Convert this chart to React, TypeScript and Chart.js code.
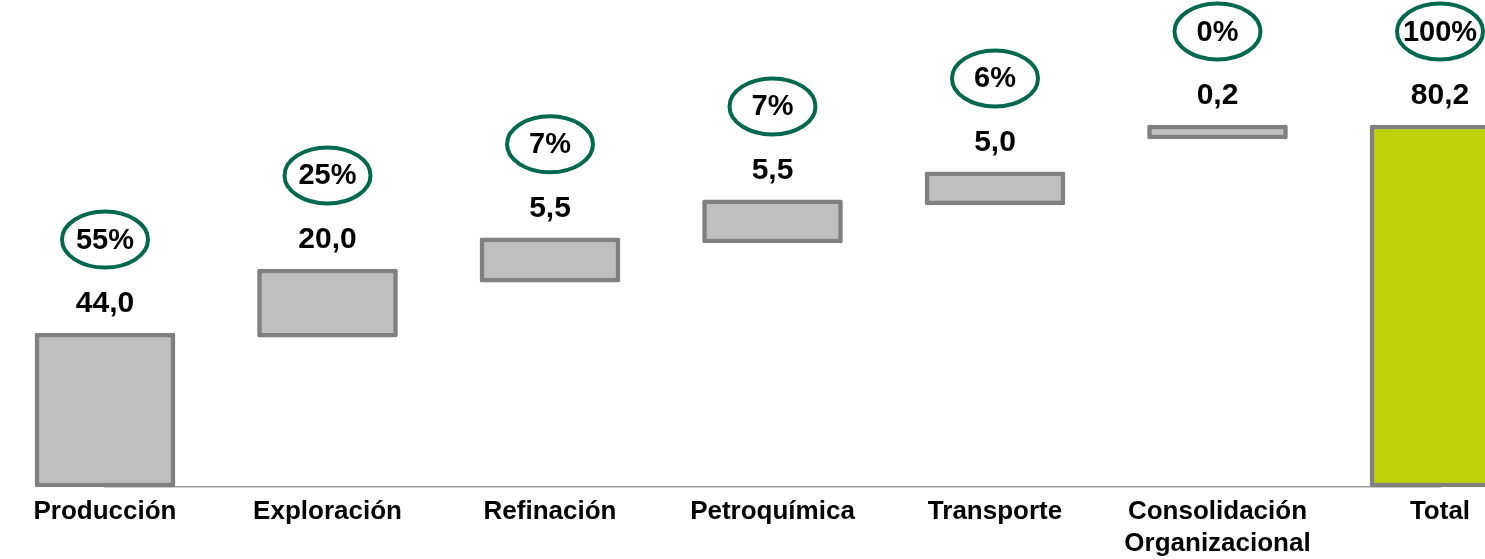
import React, { useEffect, useRef } from 'react';
import { Chart, registerables } from 'chart.js';

Chart.register(...registerables);

// Categories (x axis)
const categories = [
  'Producción',
  'Exploración',
  'Refinación',
  'Petroquímica',
  'Transporte',
  'Consolidación Organizacional',
  'Total',
];

// Floating bar extents as drawn in the picture (drawing units, 0..80.2)
const barStarts = [0, 33.2, 45.4, 54.1, 62.5, 77.1, 0];
const barEnds = [34.1, 48.3, 55.2, 63.6, 69.8, 80.2, 80.2];

// Labelled values and shares
const values = [44.0, 20.0, 5.5, 5.5, 5.0, 0.2, 80.2];
const shares = [55, 25, 7, 7, 6, 0, 100];

const FONT = '"Liberation Sans", Arial, Helvetica, sans-serif';
const GREY_FILL = '#BFBFBF';
const GREY_BORDER = '#808080';
const TOTAL_FILL = '#BDD308';
const RING = '#00684C';

const fmt = (v: number) => v.toFixed(1).replace('.', ',');

const overlayPlugin = {
  id: 'waterfallOverlay',
  afterDatasetsDraw(chart: any) {
    const ctx = chart.ctx as CanvasRenderingContext2D;
    const meta = chart.getDatasetMeta(0);
    ctx.save();
    meta.data.forEach((bar: any, i: number) => {
      const top = Math.min(bar.y, bar.base);
      const x = bar.x;
      // value label
      ctx.fillStyle = '#000000';
      ctx.textAlign = 'center';
      ctx.textBaseline = 'middle';
      ctx.font = `bold 30px ${FONT}`;
      ctx.fillText(fmt(values[i]), x, top - 29);
      // ring with share
      const cy = top - 93.5;
      ctx.beginPath();
      ctx.ellipse(x, cy, 43, 28, 0, 0, Math.PI * 2);
      ctx.lineWidth = 4;
      ctx.strokeStyle = RING;
      ctx.stroke();
      ctx.font = `bold 29px ${FONT}`;
      ctx.fillText(`${shares[i]}%`, x, cy + 1);
    });
    ctx.restore();
  },
};

export default function App() {
  const canvasRef = useRef<HTMLCanvasElement | null>(null);

  useEffect(() => {
    if (!canvasRef.current) return;
    const chart = new Chart(canvasRef.current, {
      type: 'bar',
      data: {
        labels: categories.map((c) => (c.includes(' ') ? c.split(' ') : c)),
        datasets: [
          {
            data: categories.map((_, i) => [barStarts[i], barEnds[i]]) as any,
            backgroundColor: categories.map((_, i) => (i === categories.length - 1 ? TOTAL_FILL : GREY_FILL)),
            borderColor: GREY_BORDER,
            borderWidth: 4.5,
            borderSkipped: false,
            borderRadius: 2,
            barThickness: 140,
            clip: false as any,
          },
        ],
      },
      options: {
        animation: false,
        responsive: false,
        maintainAspectRatio: false,
        layout: { padding: { left: 105, right: 45, top: 125, bottom: 0 } },
        plugins: {
          legend: { display: false },
          tooltip: { enabled: false },
        },
        scales: {
          x: {
            type: 'category',
            offset: false,
            grid: { display: false, drawTicks: false },
            border: { display: true, color: '#A0A0A0', width: 1.5 },
            ticks: {
              autoSkip: false,
              maxRotation: 0,
              minRotation: 0,
              padding: 9,
              color: '#000000',
              font: { family: FONT, size: 26, weight: 'bold', lineHeight: 1.23 },
            },
            afterFit: (scale: any) => {
              scale.height = 72;
            },
          },
          y: {
            type: 'linear',
            display: false,
            min: 0,
            max: 80.2,
          },
        },
      },
      plugins: [overlayPlugin],
    });
    return () => chart.destroy();
  }, []);

  return (
    <div style={{ position: 'absolute', left: 0, top: 0, width: 1485, height: 559, background: '#ffffff' }}>
      <canvas ref={canvasRef} width={1485} height={559} style={{ display: 'block' }} />
    </div>
  );
}
